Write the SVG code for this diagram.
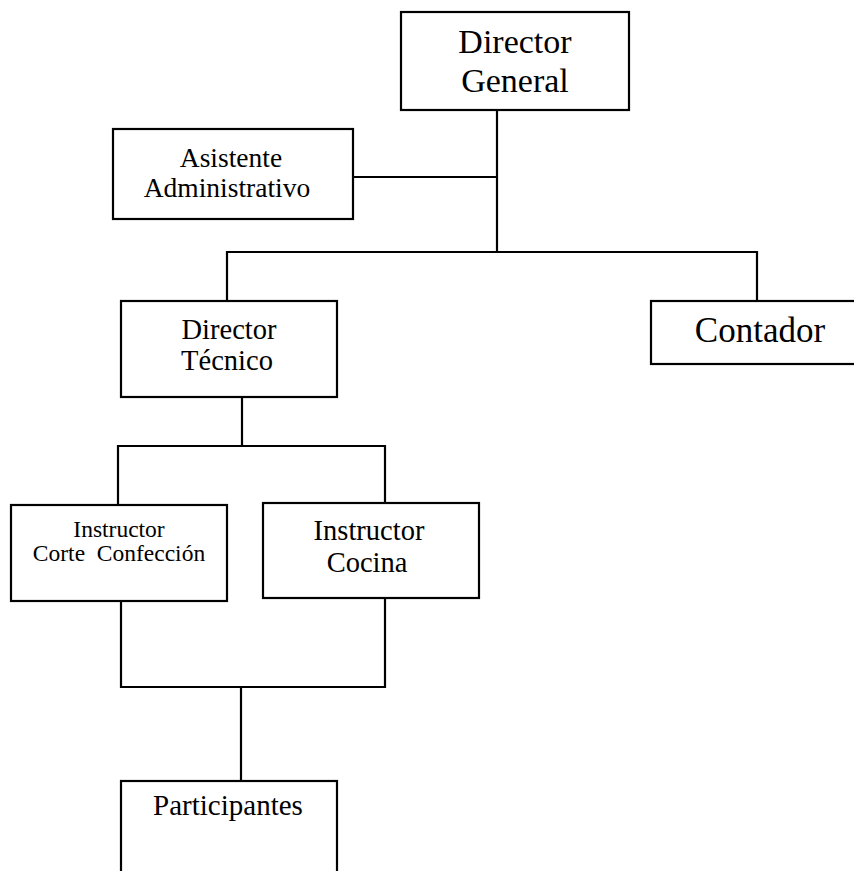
<svg xmlns="http://www.w3.org/2000/svg" width="854" height="871" viewBox="0 0 854 871">
<style>
.box{fill:#fff;stroke:#000;stroke-width:2.2}
.ln{fill:none;stroke:#000;stroke-width:2.2}
text{font-family:"Liberation Serif","Times New Roman",serif;fill:#000;text-anchor:middle}
</style>
<rect width="854" height="871" fill="#fff"/>
<g id="connectors">
<path class="ln" d="M497 110V253"/>
<path class="ln" d="M353 177H497"/>
<path class="ln" d="M227 301V252H757V301"/>
<path class="ln" d="M242 397V446"/>
<path class="ln" d="M118 505V446H385V503"/>
<path class="ln" d="M121 601V687H385V598"/>
<path class="ln" d="M241 687V781"/>
</g>
<g id="director-general">
<rect class="box" x="401" y="12" width="228" height="98"/>
<text x="515" y="53" font-size="34">Director</text>
<text x="515" y="92" font-size="34">General</text>
</g>
<g id="asistente">
<rect class="box" x="113" y="129" width="240" height="90"/>
<text x="231" y="167" font-size="27.5">Asistente</text>
<text x="227" y="197" font-size="27.5">Administrativo</text>
</g>
<g id="director-tecnico">
<rect class="box" x="121" y="301" width="216" height="96"/>
<text x="229" y="339" font-size="28.5">Director</text>
<text x="227" y="370" font-size="28.5">Técnico</text>
</g>
<g id="contador">
<rect class="box" x="651" y="301" width="215" height="63"/>
<text x="760" y="342" font-size="35">Contador</text>
</g>
<g id="instructor-corte">
<rect class="box" x="11" y="505" width="216" height="96"/>
<text x="119" y="537" font-size="23.5">Instructor</text>
<text x="119" y="561" font-size="23.5" style="white-space:pre">Corte  Confección</text>
</g>
<g id="instructor-cocina">
<rect class="box" x="263" y="503" width="216" height="95"/>
<text x="369" y="540" font-size="28.5">Instructor</text>
<text x="367" y="572" font-size="28.5">Cocina</text>
</g>
<g id="participantes">
<rect class="box" x="121" y="781" width="216" height="100"/>
<text x="228" y="815" font-size="29">Participantes</text>
</g>
</svg>
